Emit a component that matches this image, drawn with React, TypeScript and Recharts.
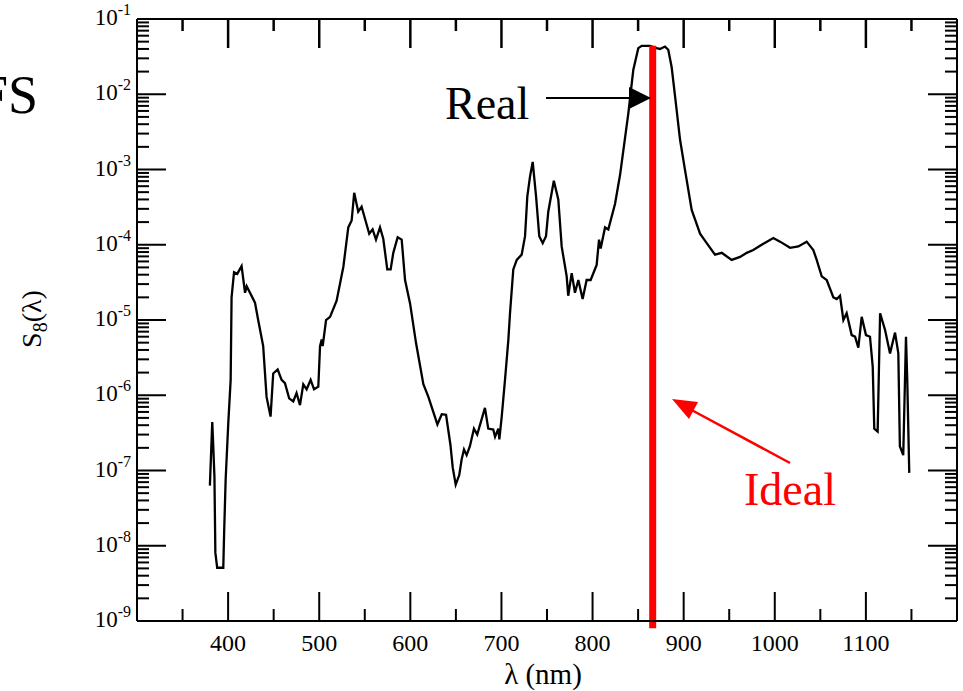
import React from "react";
import { LineChart, Line, XAxis, YAxis, ReferenceLine } from "recharts";

const WAVELENGTH = [
  380, 382.6, 383.7, 385, 386, 388, 394.7, 395.7, 397.3, 400.2, 402.8, 403.8, 406.5, 410, 414.8, 418.6, 420.4,
  429.5, 433, 438.5, 442.2, 446.6, 449.5, 454.4, 458.7, 462.4, 467, 471.5, 475.1, 478.9, 482.5, 486.2, 490.6,
  494.3, 499, 500.9, 502.7, 503.8, 507.5, 511.9, 519.1, 526.5, 531.9, 535.6, 538.4, 542.8, 546.5, 554.9, 558.6,
  562.3, 566.7, 570.3, 574.7, 578.4, 581.3, 586.1, 590.5, 594.2, 599.7, 606.3, 614.3, 619.8, 629.7, 634.5, 639.2,
  644, 646.5, 649.8, 653.7, 656.3, 658.9, 661.8, 665.4, 669.8, 673.4, 681.9, 685.5, 691, 693, 696.6, 697.7,
  700.3, 703.9, 707.6, 709.4, 713, 716.8, 722.2, 725.9, 728.4, 731.4, 734.3, 738, 741.5, 745.3, 748.9, 751.4,
  757.5, 762.4, 766.1, 771.6, 773.3, 777.1, 780.7, 784.4, 789.1, 793.5, 797.9, 804.5, 807.1, 808.9, 813.7,
  817.3, 824.7, 830.2, 839.3, 844.7, 850.2, 853.9, 863, 870.3, 874, 879.5, 883.1, 886.8, 890.6, 896, 901.5,
  908.8, 918, 925.3, 934.4, 941.8, 952.7, 961.9, 969.2, 976.4, 985.6, 998.4, 1005.8, 1016.8, 1025.9, 1035,
  1042.3, 1046, 1051.5, 1057, 1064.3, 1068, 1071.6, 1075.3, 1078.9, 1084.4, 1088.1, 1091.7, 1095.4, 1100.1,
  1104.5, 1107.5, 1109.2, 1112.9, 1115.6, 1121, 1126.5, 1132, 1135.6, 1137.3, 1141, 1144, 1145.4, 1147.6,
];

const S8 = [
  6.3e-8, 4.4e-7, 2.1e-7, 8.3e-8, 8.1e-9, 5.1e-9, 5.1e-9, 1.6e-8, 7.6e-8, 4.3e-7, 1.6e-6, 2.0e-5, 4.3e-5, 4.1e-5, 5.2e-5, 2.3e-5, 2.8e-5,
  1.7e-5, 1.0e-5, 4.5e-6, 9.5e-7, 5.2e-7, 1.95e-6, 2.2e-6, 1.6e-6, 1.45e-6, 9.1e-7, 8.3e-7, 1.07e-6, 7.4e-7, 1.4e-6, 1.2e-6, 1.6e-6,
  1.2e-6, 1.3e-6, 4.5e-6, 5.5e-6, 4.5e-6, 1.0e-5, 1.1e-5, 1.8e-5, 5.1e-5, 1.7e-4, 2.1e-4, 4.9e-4, 2.75e-4, 3.2e-4, 1.4e-4, 1.6e-4,
  1.17e-4, 1.7e-4, 1.2e-4, 4.7e-5, 4.7e-5, 7.8e-5, 1.26e-4, 1.17e-4, 3.4e-5, 1.66e-5, 4.9e-6, 1.4e-6, 9.5e-7, 4.1e-7, 5.6e-7, 5.5e-7,
  2.2e-7, 1.1e-7, 6.5e-8, 8.7e-8, 1.4e-7, 1.9e-7, 1.6e-7, 2.1e-7, 3.6e-7, 3.0e-7, 6.8e-7, 3.6e-7, 3.5e-7, 2.8e-7, 3.6e-7, 2.6e-7,
  5.2e-7, 1.6e-6, 5.5e-6, 1.23e-5, 4.7e-5, 6.3e-5, 7.4e-5, 1.3e-4, 4.4e-4, 8.1e-4, 1.26e-3, 4.4e-4, 1.3e-4, 1.05e-4, 1.3e-4, 2.75e-4,
  7.1e-4, 4.0e-4, 9.5e-5, 3.8e-5, 2.1e-5, 4.2e-5, 2.3e-5, 3.4e-5, 1.9e-5, 3.4e-5, 3.4e-5, 5.4e-5, 1.17e-4, 8.9e-5, 1.7e-4,
  1.6e-4, 3.5e-4, 8.5e-4, 5.6e-3, 2.1e-2, 4.1e-2, 4.4e-2, 4.4e-2, 4.1e-2, 4.0e-2, 4.3e-2, 3.9e-2, 2.3e-2, 9.3e-3, 2.5e-3, 9.8e-4,
  2.9e-4, 1.4e-4, 1.05e-4, 7.4e-5, 7.8e-5, 6.3e-5, 6.9e-5, 7.8e-5, 8.5e-5, 1.0e-4, 1.23e-4, 1.1e-4, 9.1e-5, 9.5e-5, 1.1e-4,
  8.5e-5, 6.3e-5, 3.8e-5, 3.4e-5, 2.0e-5, 1.9e-5, 2.1e-5, 1.0e-5, 1.23e-5, 6.3e-6, 6.0e-6, 4.3e-6, 1.1e-5, 6.3e-6,
  6.0e-6, 2.4e-6, 3.6e-7, 3.3e-7, 1.23e-5, 7.4e-6, 3.6e-6, 6.8e-6, 3.6e-6, 2.1e-7, 1.6e-7, 6.0e-6, 1.6e-6, 9.3e-8,
];

// ideal response: single line at the design wavelength
const IDEAL_NM = 866;
const IDEAL_LOW = 8e-10;
const IDEAL_HIGH = 4.4e-2;

const X_DOMAIN = [300, 1200];
const X_LABELLED = [400, 500, 600, 700, 800, 900, 1000, 1100];
const X_MINOR = [350, 450, 550, 650, 750, 850, 950, 1050, 1150];
const Y_EXPONENTS = [-9, -8, -7, -6, -5, -4, -3, -2, -1];
const Y_MINOR_MULT = [2, 3, 4, 5, 6, 7, 8, 9];

const data = WAVELENGTH.map((nm, i) => ({ nm, s8: S8[i] }));

const xTicks = [...X_LABELLED, ...X_MINOR].sort((a, b) => a - b);
const yTicks = [
  ...Y_EXPONENTS.map((e) => Math.pow(10, e)),
  ...Y_EXPONENTS.slice(0, -1).flatMap((e) => Y_MINOR_MULT.map((m) => m * Math.pow(10, e))),
].sort((a, b) => a - b);

const SERIF = "'Liberation Serif', 'Times New Roman', serif";
const W = 963;
const H = 691;
const PLOT_LEFT = 137;
const PLOT_RIGHT_PAD = 6;
const PLOT_TOP = 19;
const MAJOR = 29;
const MINOR = 12;

// same mapping the x axis uses, for the mirrored ticks on the top frame
const xPix = (v: number) =>
  PLOT_LEFT + ((v - X_DOMAIN[0]) / (X_DOMAIN[1] - X_DOMAIN[0])) * (W - PLOT_RIGHT_PAD - PLOT_LEFT);

const isMajorY = (v: number) => {
  const e = Math.round(Math.log10(v));
  return Math.abs(v / Math.pow(10, e) - 1) < 1e-6;
};

const LeftTick = (props: any) => {
  const { x, y, payload } = props;
  const major = isMajorY(payload.value);
  const e = Math.round(Math.log10(payload.value));
  return (
    <g>
      <line x1={x} x2={x + (major ? MAJOR : MINOR)} y1={y} y2={y} stroke="#000" strokeWidth={2} />
      {major && (
        <text x={x - 6} y={y + 6} textAnchor="end" fontFamily={SERIF} fontSize={23} fill="#000">
          10
          <tspan dy={-10} fontSize={16}>{e}</tspan>
        </text>
      )}
    </g>
  );
};

const RightTick = (props: any) => {
  const { x, y, payload } = props;
  const major = isMajorY(payload.value);
  return <line x1={x - (major ? MAJOR : MINOR)} x2={x} y1={y} y2={y} stroke="#000" strokeWidth={2} />;
};

const BottomTick = (props: any) => {
  const { x, y, payload } = props;
  const major = payload.value % 100 === 0;
  return (
    <g>
      <line x1={x} x2={x} y1={y} y2={y - (major ? MAJOR : MINOR)} stroke="#000" strokeWidth={2} />
      {major && (
        <text x={x} y={y + 30} textAnchor="middle" fontFamily={SERIF} fontSize={24} fill="#000">
          {payload.value}
        </text>
      )}
    </g>
  );
};

const axisLine = { stroke: "#000", strokeWidth: 2 };

export default function App() {
  return (
    <div style={{ position: "absolute", left: 0, top: 0, width: W, height: H, background: "#fff" }}>
      <LineChart width={W} height={H} data={data} margin={{ top: 0, right: 0, bottom: 0, left: 0 }}>
        <XAxis
          dataKey="nm"
          type="number"
          domain={X_DOMAIN}
          ticks={xTicks}
          interval={0}
          height={70}
          tickSize={0}
          tickMargin={0}
          tickLine={false}
          axisLine={axisLine}
          tick={BottomTick}
          allowDataOverflow
        />
        <XAxis
          xAxisId="top"
          orientation="top"
          type="number"
          domain={X_DOMAIN}
          height={PLOT_TOP}
          tickLine={false}
          axisLine={axisLine}
          tick={false}
          allowDataOverflow
        />
        <YAxis
          type="number"
          scale="log"
          domain={[1e-9, 1e-1]}
          ticks={yTicks}
          interval={0}
          width={PLOT_LEFT}
          tickSize={0}
          tickMargin={0}
          tickLine={false}
          axisLine={axisLine}
          tick={LeftTick}
          allowDataOverflow
        />
        <YAxis
          yAxisId="right"
          orientation="right"
          type="number"
          scale="log"
          domain={[1e-9, 1e-1]}
          ticks={yTicks}
          interval={0}
          width={PLOT_RIGHT_PAD}
          tickSize={0}
          tickMargin={0}
          tickLine={false}
          axisLine={axisLine}
          tick={RightTick}
          allowDataOverflow
        />
        <Line
          type="linear"
          dataKey="s8"
          stroke="#000"
          strokeWidth={2.3}
          dot={false}
          isAnimationActive={false}
        />
        <ReferenceLine
          segment={[
            { x: IDEAL_NM, y: IDEAL_LOW },
            { x: IDEAL_NM, y: IDEAL_HIGH },
          ]}
          stroke="#ff0000"
          strokeWidth={7}
          ifOverflow="visible"
        />
      </LineChart>
      <svg
        width={W}
        height={H}
        style={{ position: "absolute", left: 0, top: 0, pointerEvents: "none" }}
      >
        {xTicks.map((v) => {
          const px = xPix(v);
          return (
            <line
              key={`top-${v}`}
              x1={px}
              x2={px}
              y1={PLOT_TOP}
              y2={PLOT_TOP + (v % 100 === 0 ? MAJOR : MINOR)}
              stroke="#000"
              strokeWidth={2.5}
            />
          );
        })}
        <text x={38} y={113} textAnchor="end" fontFamily={SERIF} fontSize={54} fill="#000">FS</text>
        <text x={41} y={319} textAnchor="middle" fontFamily={SERIF} fontSize={28} fill="#000" transform="rotate(-90 41 319)">
          S<tspan dy={6} fontSize={20}>8</tspan>
          <tspan dy={-6}>(λ)</tspan>
        </text>
        <text x={543} y={684} textAnchor="middle" fontFamily={SERIF} fontSize={29} fill="#000">λ (nm)</text>
        <text x={445} y={119} fontFamily={SERIF} fontSize={46} fill="#000">Real</text>
        <line x1={546} y1={98} x2={632} y2={98} stroke="#000" strokeWidth={2} />
        <polygon points="629,87 651,98 629,109" fill="#000" />
        <text x={744} y={505} fontFamily={SERIF} fontSize={46} fill="#ff0000">Ideal</text>
        <line x1={790} y1={463} x2={686} y2={407} stroke="#ff0000" strokeWidth={2.5} />
        <polygon points="672,399 689,419 698,402" fill="#ff0000" />
      </svg>
    </div>
  );
}
